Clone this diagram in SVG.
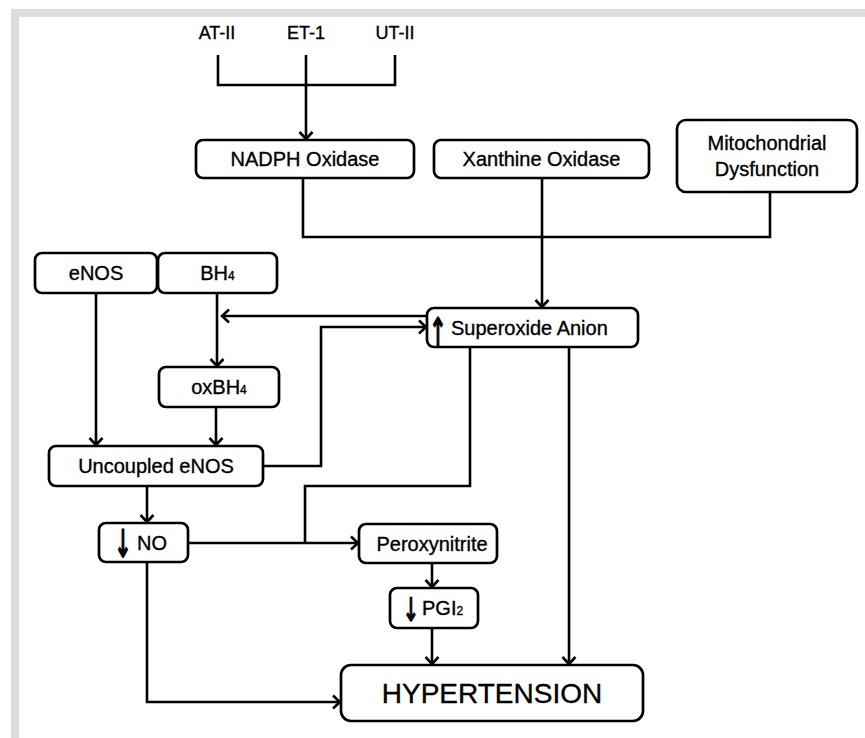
<svg xmlns="http://www.w3.org/2000/svg" width="865" height="738" viewBox="0 0 865 738">
<defs>
<marker id="ah" markerUnits="userSpaceOnUse" markerWidth="16" markerHeight="16" refX="10" refY="8" orient="auto">
<path d="M3,1.5 L10,8 L3,14.5" fill="none" stroke="#000" stroke-width="2.6" stroke-linejoin="miter"/>
</marker>
<style>
.box{fill:#fff;stroke:#000;stroke-width:2.7}
.t{font-family:"Liberation Sans",Arial,sans-serif;font-size:20px;fill:#000;stroke:#000;stroke-width:0.35;text-anchor:middle}
.s{font-size:12px}
.arr{font-family:"DejaVu Sans",sans-serif;font-size:28px;fill:#000;stroke:#000;stroke-width:1.3;text-anchor:middle;opacity:0.99}
.c{fill:none;stroke:#000;stroke-width:2.6}
.ca{fill:none;stroke:#000;stroke-width:2.6;marker-end:url(#ah)}
</style>
</defs>
<rect x="0" y="0" width="865" height="738" fill="#fff"/>
<rect x="11" y="9" width="854" height="8" fill="#dcdde0"/>
<rect x="11" y="9" width="8" height="729" fill="#dcdde0"/>

<g id="connectors">
<path class="c" d="M218,55 V85 H395 V55"/>
<path class="ca" d="M306,55 V139"/>
<path class="c" d="M303,178 V237 H770 V192"/>
<path class="ca" d="M542,178 V307"/>
<path class="ca" d="M427,316 H222"/>
<path class="ca" d="M217,293 V366"/>
<path class="ca" d="M96,293 V445"/>
<path class="ca" d="M216,407 V445"/>
<path class="ca" d="M263,466 H321 V327 H426"/>
<path class="c" d="M470,347 V486 H305 V543"/>
<path class="ca" d="M147,486 V522"/>
<path class="ca" d="M188,543 H358"/>
<path class="ca" d="M432,563 V587"/>
<path class="ca" d="M432,628 V664"/>
<path class="ca" d="M569,347 V664"/>
<path class="ca" d="M147,562 V702 H340"/>
</g>

<g id="at2"><text class="t" style="font-size:18px" x="217" y="39">AT-II</text></g>
<g id="et1"><text class="t" style="font-size:18px" x="306" y="39">ET-1</text></g>
<g id="ut2"><text class="t" style="font-size:18px" x="395" y="39">UT-II</text></g>

<g id="nadph"><rect class="box" x="196" y="140" width="218" height="38" rx="7"/><text class="t" x="305" y="166">NADPH Oxidase</text></g>
<g id="xanthine"><rect class="box" x="434" y="140" width="215" height="38" rx="7"/><text class="t" x="541.5" y="166">Xanthine Oxidase</text></g>
<g id="mito"><rect class="box" x="677" y="120" width="180" height="72" rx="9"/><text class="t" x="767" y="150">Mitochondrial</text><text class="t" x="767" y="176">Dysfunction</text></g>

<g id="enos"><rect class="box" x="35" y="253" width="122" height="40" rx="7"/><text class="t" x="96" y="280">eNOS</text></g>
<g id="bh4"><rect class="box" x="158" y="253" width="119" height="40" rx="7"/><text class="t" x="217.5" y="280">BH<tspan class="s">4</tspan></text></g>

<g id="superoxide"><rect class="box" x="427" y="308" width="211" height="39" rx="7"/><text class="arr" transform="translate(438,345) scale(0.75,1.35)">↑</text><text class="t" x="451" y="335" style="text-anchor:start">Superoxide Anion</text></g>

<g id="oxbh4"><rect class="box" x="159" y="367" width="120" height="40" rx="7"/><text class="t" x="219" y="394">oxBH<tspan class="s">4</tspan></text></g>

<g id="uncoupled"><rect class="box" x="49" y="446" width="214" height="40" rx="7"/><text class="t" x="156" y="473">Uncoupled eNOS</text></g>

<g id="no"><rect class="box" x="99" y="523" width="89" height="39" rx="7"/><text class="arr" transform="translate(123,557) scale(0.75,1.35)">↓</text><text class="t" x="137" y="550" style="text-anchor:start">NO</text></g>

<g id="peroxynitrite"><rect class="box" x="359" y="524" width="138" height="39" rx="7"/><text class="t" x="432" y="551">Peroxynitrite</text></g>

<g id="pgi2"><rect class="box" x="390" y="588" width="88" height="40" rx="7"/><text class="arr" transform="translate(411,621) scale(0.7,1.15)">↓</text><text class="t" x="422" y="615" style="text-anchor:start">PGI<tspan class="s">2</tspan></text></g>

<g id="hypertension"><rect class="box" x="341" y="665" width="302" height="56" rx="10"/><text class="t" style="font-size:28px" x="492" y="703">HYPERTENSION</text></g>
</svg>
